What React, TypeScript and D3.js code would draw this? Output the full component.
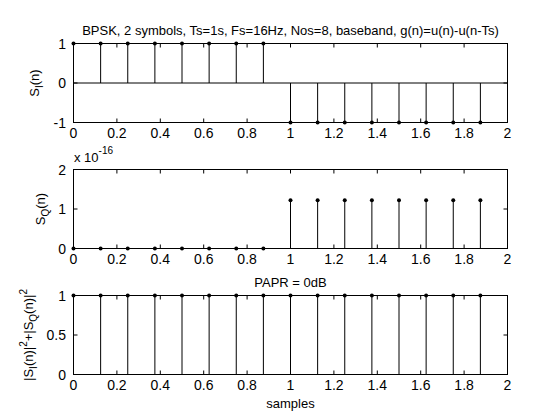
import * as d3 from 'd3';
import type { ReactNode } from 'react';

// sample instants n/Fs, 16 samples over two symbols
const sampleTimes = [0, 0.125, 0.25, 0.375, 0.5, 0.625, 0.75, 0.875, 1, 1.125, 1.25, 1.375, 1.5, 1.625, 1.75, 1.875];
const inPhase = [1, 1, 1, 1, 1, 1, 1, 1, -1, -1, -1, -1, -1, -1, -1, -1];
// quadrature part in units of 1e-16 (sin(pi) leftover)
const quadrature = [0, 0, 0, 0, 0, 0, 0, 0, 1.2246, 1.2246, 1.2246, 1.2246, 1.2246, 1.2246, 1.2246, 1.2246];
const power = [1, 1, 1, 1, 1, 1, 1, 1, 1, 1, 1, 1, 1, 1, 1, 1];

const xTicks = [0, 0.2, 0.4, 0.6, 0.8, 1, 1.2, 1.4, 1.6, 1.8, 2];
const iTicks = [-1, 0, 1];
const qTicks = [0, 1, 2];
const pTicks = [0, 0.5, 1];

const font = 'Liberation Sans, Arial, Helvetica, sans-serif';
const left = 73.5;
const right = 507.5;
const tickLen = 4;

type PanelProps = {
  top: number;
  bottom: number;
  domain: [number, number];
  values: number[];
  yTicks: number[];
  title?: string;
  ylabel: ReactNode;
  ylabelX: number;
};

function Panel({ top, bottom, domain, values, yTicks, title, ylabel, ylabelX }: PanelProps) {
  const x = d3.scaleLinear().domain([0, 2]).range([left, right]);
  const y = d3.scaleLinear().domain(domain).range([bottom, top]);
  const base = y(0);
  return (
    <g>
      {/* stems */}
      {values.map((v, i) => (
        <line key={'s' + i} x1={x(sampleTimes[i])} x2={x(sampleTimes[i])} y1={base} y2={y(v)} stroke="#000" />
      ))}
      {/* baseline */}
      <line x1={left} x2={right} y1={base} y2={base} stroke="#000" />
      {/* box */}
      <rect x={left} y={top} width={right - left} height={bottom - top} fill="none" stroke="#000" />
      {xTicks.map((t) => (
        <g key={'x' + t}>
          <line x1={x(t)} x2={x(t)} y1={bottom} y2={bottom - tickLen} stroke="#000" />
          <line x1={x(t)} x2={x(t)} y1={top} y2={top + tickLen} stroke="#000" />
          <text x={x(t)} y={bottom + 15} textAnchor="middle" fontSize={14}>
            {String(t)}
          </text>
        </g>
      ))}
      {yTicks.map((t) => (
        <g key={'y' + t}>
          <line x1={left} x2={left + tickLen} y1={y(t)} y2={y(t)} stroke="#000" />
          <line x1={right} x2={right - tickLen} y1={y(t)} y2={y(t)} stroke="#000" />
          <text x={66} y={y(t) + 5} textAnchor="end" fontSize={14}>
            {String(t)}
          </text>
        </g>
      ))}
      {values.map((v, i) => (
        <circle key={'m' + i} cx={x(sampleTimes[i])} cy={y(v)} r={2} fill="#000" />
      ))}
      {title && (
        <text x={(left + right) / 2} y={top - 9} textAnchor="middle" fontSize={13}>
          {title}
        </text>
      )}
      <text transform={`translate(${ylabelX},${(top + bottom) / 2}) rotate(-90)`} textAnchor="middle" fontSize={13}>
        {ylabel}
      </text>
    </g>
  );
}

export default function App() {
  return (
    <svg
      width={560}
      height={420}
      viewBox="0 0 560 420"
      style={{ position: 'absolute', left: 0, top: 0, background: '#fff' }}
      fontFamily={font}
    >
      <rect width={560} height={420} fill="#fff" />
      <Panel
        top={43.5}
        bottom={122.5}
        domain={[-1, 1]}
        values={inPhase}
        yTicks={iTicks}
        title="BPSK, 2 symbols, Ts=1s, Fs=16Hz, Nos=8, baseband, g(n)=u(n)-u(n-Ts)"
        ylabel={
          <>
            <tspan>S</tspan>
            <tspan dy={4} fontSize={10}>I</tspan>
            <tspan dy={-4}>(n)</tspan>
          </>
        }
        ylabelX={39}
      />
      <Panel
        top={169.5}
        bottom={248.5}
        domain={[0, 2]}
        values={quadrature}
        yTicks={qTicks}
        ylabel={
          <>
            <tspan>S</tspan>
            <tspan dy={4} fontSize={10}>Q</tspan>
            <tspan dy={-4}>(n)</tspan>
          </>
        }
        ylabelX={45}
      />
      <text x={74} y={162} fontSize={13}>
        <tspan>x 10</tspan>
        <tspan dy={-8} fontSize={10}>-16</tspan>
      </text>
      <Panel
        top={295.5}
        bottom={374.5}
        domain={[0, 1]}
        values={power}
        yTicks={pTicks}
        title="PAPR = 0dB"
        ylabel={
          <>
            <tspan>|S</tspan>
            <tspan dy={4} fontSize={10}>I</tspan>
            <tspan dy={-4}>(n)|</tspan>
            <tspan dy={-6} fontSize={10}>2</tspan>
            <tspan dy={6}>+|S</tspan>
            <tspan dy={4} fontSize={10}>Q</tspan>
            <tspan dy={-4}>(n)|</tspan>
            <tspan dy={-6} fontSize={10}>2</tspan>
          </>
        }
        ylabelX={33}
      />
      <text x={(left + right) / 2} y={408} textAnchor="middle" fontSize={13}>
        samples
      </text>
    </svg>
  );
}
